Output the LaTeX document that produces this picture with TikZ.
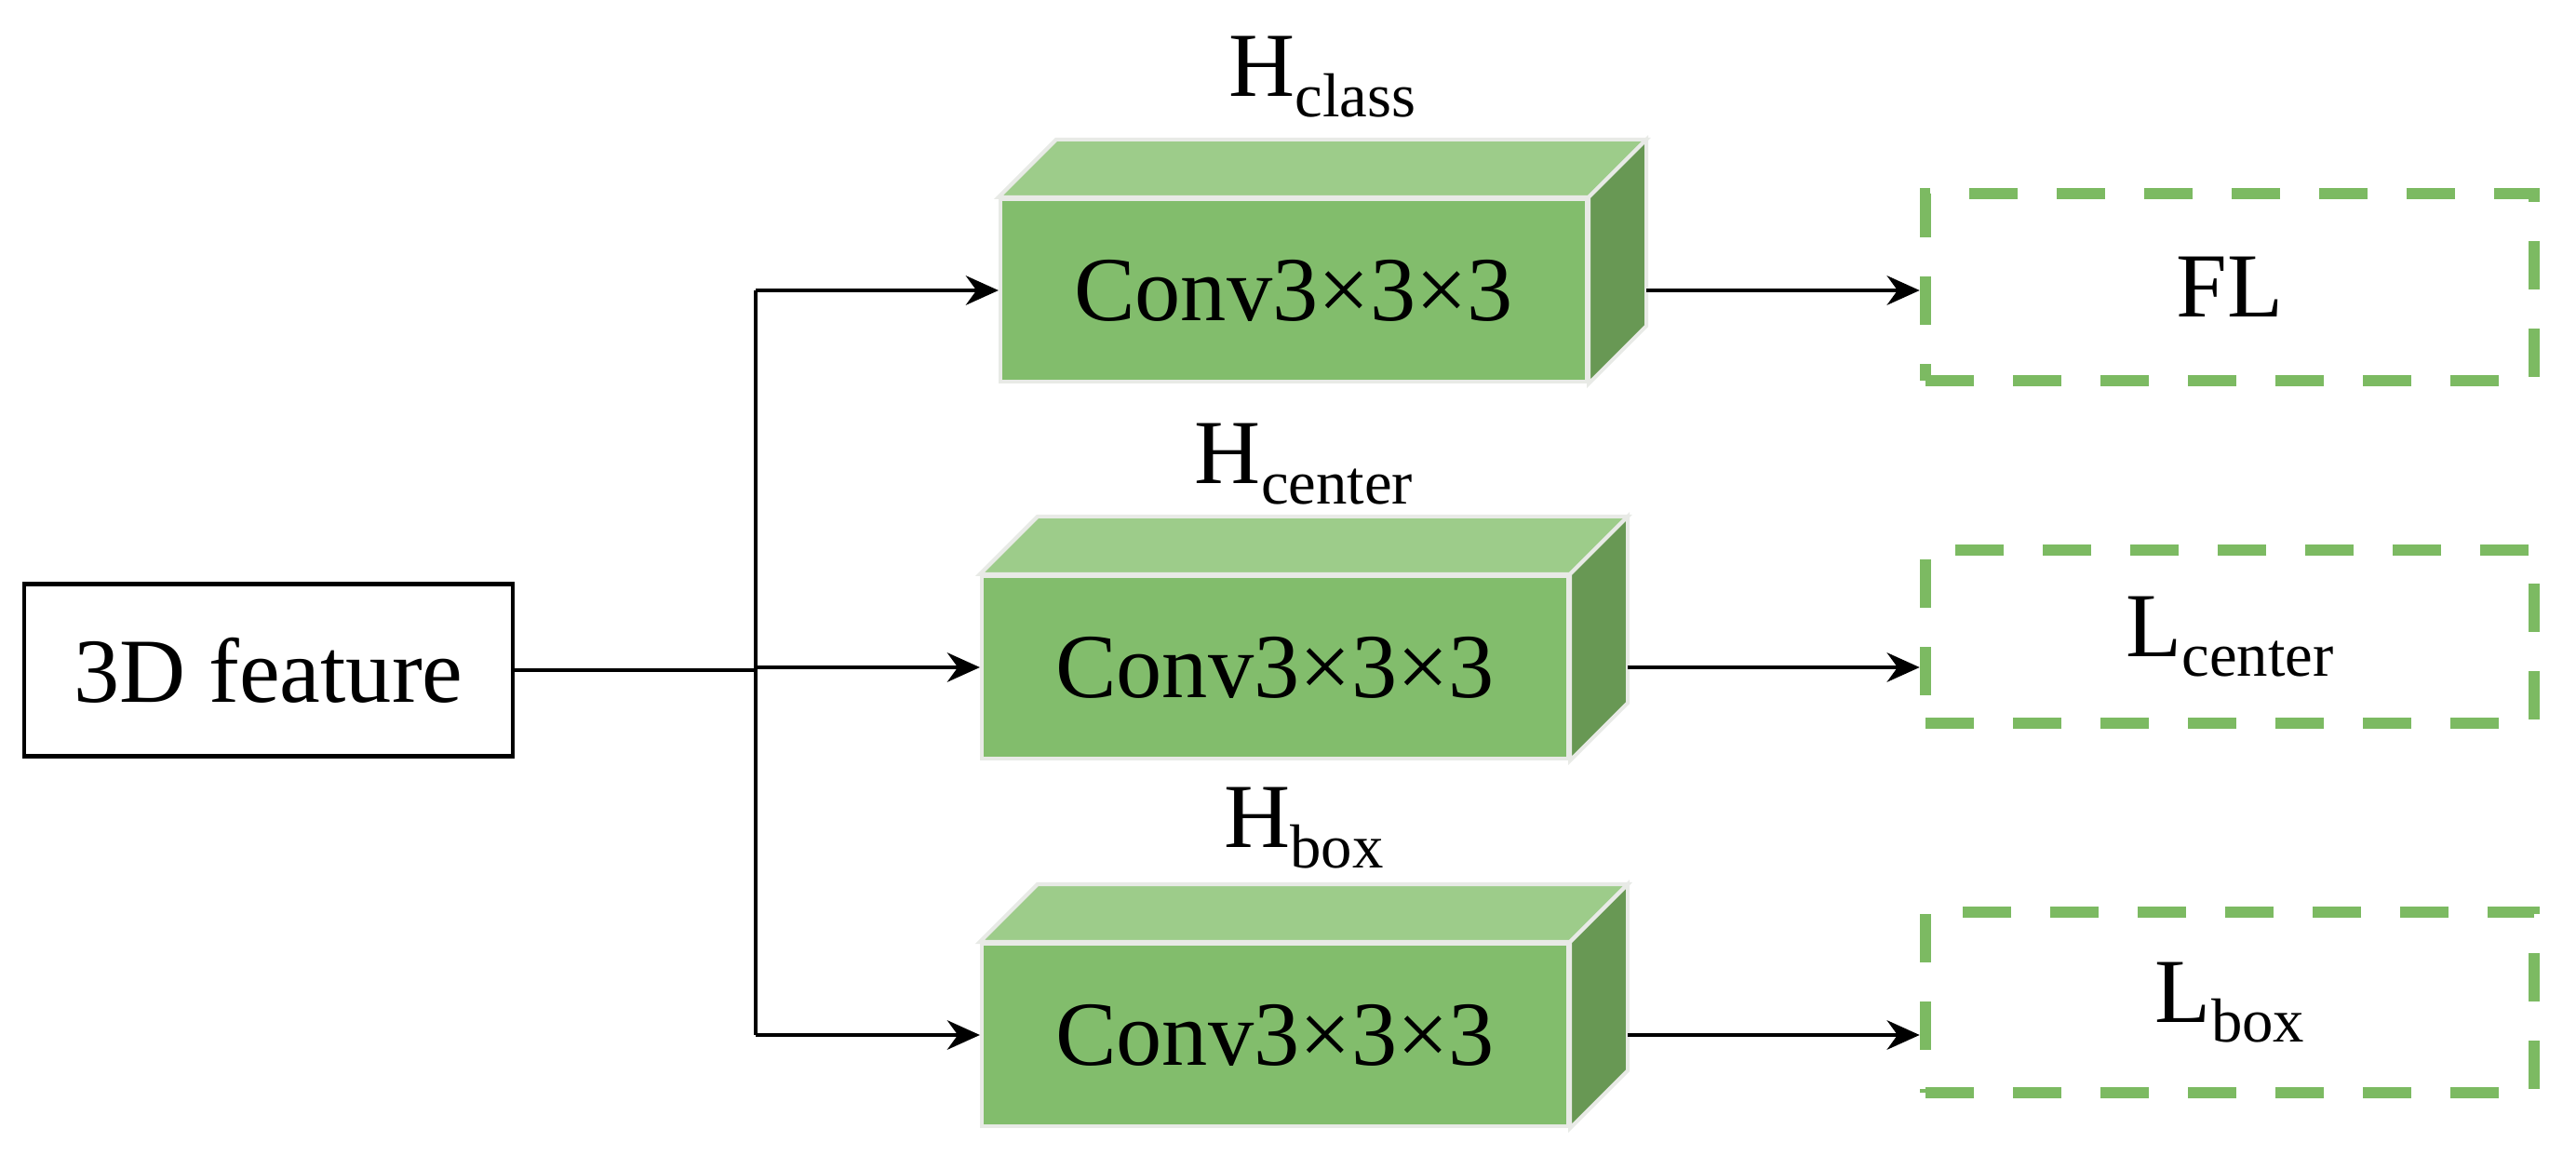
\documentclass[tikz,border=0pt]{standalone}
\usepackage{fontspec}
\setmainfont{Liberation Serif}
\usetikzlibrary{positioning,arrows.meta}

\definecolor{convfront}{RGB}{130,189,108}
\definecolor{convtop}{RGB}{157,204,138}
\definecolor{convside}{RGB}{104,152,84}
\definecolor{convedge}{RGB}{232,234,230}
\definecolor{lossgreen}{RGB}{124,186,98}

\newcommand{\subtxt}[2]{#1\raisebox{-0.22em}{\fontsize{19}{19}\selectfont #2}}
\newcommand{\cubeside}[1]{%
  \fill[convtop, draw=convedge, line width=1.2pt] (#1.north west) -- ++(0.62,0.62) -- ([shift={(0.62,0.62)}]#1.north east) -- (#1.north east) -- cycle;
  \fill[convside, draw=convedge, line width=1.2pt] (#1.north east) -- ++(0.62,0.62) -- ([shift={(0.62,0.62)}]#1.south east) -- (#1.south east) -- cycle;}

\begin{document}
\begin{tikzpicture}[font=\fontsize{28}{32}\selectfont,
  feat/.style = {draw, line width=1.4pt, minimum width=5.25cm, minimum height=1.85cm},
  conv/.style = {fill=convfront, draw=convedge, line width=1.2pt, minimum width=6.3cm, minimum height=1.96cm},
  loss/.style = {draw=lossgreen, line width=3.6pt, dash pattern=on 0.52cm off 0.42cm, minimum width=6.54cm},
  head/.style = {anchor=south, inner sep=0pt},
  arr/.style = {-{Stealth[length=10pt, width=9pt]}, line width=0.9pt}]
\useasboundingbox (0,0) rectangle (27.68,-12.42);

\node[feat] (feat) at (2.885,-7.2) {3D feature};
\node[conv] (c1) at (13.90,-3.12) {Conv3×3×3};
\node[conv] (c2) at (13.70,-7.17) {Conv3×3×3};
\node[conv] (c3) at (13.70,-11.12) {Conv3×3×3};
\cubeside{c1}
\cubeside{c2}
\cubeside{c3}

\node[head] (h1) at ([shift={(0.31,0.85)}]c1.north) {\subtxt{H}{class}};
\node[head] (h2) at ([shift={(0.31,0.74)}]c2.north) {\subtxt{H}{center}};
\node[head] (h3) at ([shift={(0.31,0.78)}]c3.north) {\subtxt{H}{box}};

\node[loss, minimum height=2.01cm] (l1) at (23.96,-3.085) {FL};
\node[loss, minimum height=1.86cm] (l2) at (23.96,-6.84) {\subtxt{L}{center}};
\node[loss, minimum height=1.94cm] (l3) at (23.96,-10.77) {\subtxt{L}{box}};

% fork from the feature box
\coordinate (fork) at (8.12,-7.2);
\draw[line width=0.9pt] (feat.east) -- (fork);
\draw[line width=0.9pt] (fork |- c1.west) -- (fork |- c3.west);
\draw[arr] (fork |- c1.west) -- (c1.west);
\draw[arr] (fork |- c2.west) -- (c2.west);
\draw[arr] (fork |- c3.west) -- (c3.west);

% heads to losses
\draw[arr] ([xshift=6.2mm]c1.east) -- (c1.east -| l1.west);
\draw[arr] ([xshift=6.2mm]c2.east) -- (c2.east -| l2.west);
\draw[arr] ([xshift=6.2mm]c3.east) -- (c3.east -| l3.west);
\end{tikzpicture}
\end{document}
